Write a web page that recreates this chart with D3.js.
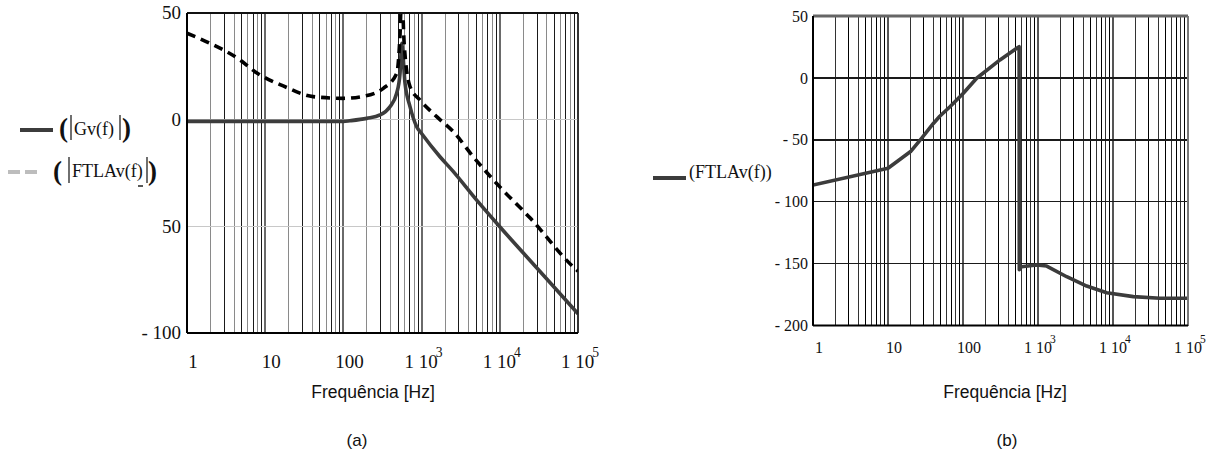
<!DOCTYPE html>
<html><head><meta charset="utf-8">
<script src="https://cdn.jsdelivr.net/npm/d3@7"></script>
<style>body{margin:0;background:#fff} svg{display:block}</style>
</head><body>
<svg id="c" width="1217" height="450"></svg>
<script>
// ---- data (a) ----
const freqGv = [1, 10, 100, 121, 199, 294, 394, 480, 530, 556, 614, 711, 865, 1000, 1718, 2500, 5000, 10000, 20000, 50000, 100000];
const gvA    = [-0.8, -0.8, -0.8, -0.5, 0.6, 2.2, 6.1, 12.4, 21.7, 35.8, 17, 6.1, -3.3, -6.5, -17.4, -24, -37.5, -50.2, -62.5, -78.7, -91];
const freqFT = [1, 1.97, 4.76, 7.4, 17, 41, 100, 171, 324, 480, 530, 556, 600, 711, 955, 1560, 2540, 4580, 10000, 24300, 87000, 100000];
const ftlaA  = [40.5, 35.8, 28, 22.5, 15.8, 10.8, 10, 10.8, 14.7, 21.7, 40, 60, 35, 15.5, 9.2, 1.4, -5.6, -17.4, -31.5, -46, -69, -71];
// ---- data (b) ----
const freqB  = [1, 10, 20, 28, 40, 49, 67, 101, 152, 311, 520, 560, 563, 600, 961, 1306, 2414, 4460, 8240, 18700, 42300, 100000];
const ftlaB  = [-86.5, -73, -59.5, -48.8, -37, -31, -23.3, -12.4, -0.3, 14.5, 24, 25.2, -155, -152.5, -151.1, -152, -160.6, -168.1, -173.5, -176.7, -178, -178];
// ---- ticks ----
const xTickVals = [1, 10, 100, 1000, 10000, 100000];
const xTickBase = ["1", "10", "100", "1 10", "1 10", "1 10"];
const xTickExp  = ["", "", "", "3", "4", "5"];
const yTicksA   = [50, 0, -50, -100];
const yLabelsA  = ["50", "0", "50", "- 100"];
const yTicksB   = [50, 0, -50, -100, -150, -200];
const yLabelsB  = ["50", "0", "- 50", "- 100", "- 150", "- 200"];

const svg = d3.select("#c");
const serif = "'Liberation Serif','Times New Roman',serif";
const sans = "'Liberation Sans',Arial,sans-serif";

function mult(d){ return Math.round(d / Math.pow(10, Math.floor(Math.log10(d) + 1e-9))); }

function panel(cfg){
  const {x, y, id} = cfg;
  const [x0, x1] = x.range(), [y0, y1] = y.range();
  const g = svg.append("g");
  g.append("clipPath").attr("id", id).append("rect")
    .attr("x", x0).attr("y", y0).attr("width", x1 - x0).attr("height", y1 - y0);
  g.selectAll(".vg").data(x.ticks()).join("line")
    .attr("x1", d => x(d)).attr("x2", d => x(d)).attr("y1", y0).attr("y2", y1)
    .attr("shape-rendering", "crispEdges")
    .attr("stroke", d => { const m = mult(d); return m === 1 ? cfg.decCol : (m % 2 === 0 ? cfg.evenCol : cfg.oddCol); })
    .attr("stroke-width", d => mult(d) === 1 ? 2 : 1);
  g.selectAll(".hg").data(cfg.yt.slice(1, -1)).join("line")
    .attr("x1", x0).attr("x2", x1).attr("y1", d => y(d)).attr("y2", d => y(d))
    .attr("shape-rendering", "crispEdges")
    .attr("stroke", cfg.hCol).attr("stroke-width", cfg.hW);
  const cg = g.append("g").attr("clip-path", `url(#${id})`);
  cfg.series.forEach(s => {
    const pts = s.f.map((f, i) => [f, s.v[i]]);
    cg.append("path").datum(pts)
      .attr("d", d3.line().x(d => x(d[0])).y(d => y(d[1])).curve(s.curve))
      .attr("fill", "none").attr("stroke", s.color).attr("stroke-width", s.w)
      .attr("stroke-dasharray", s.dash || null).attr("stroke-linejoin", "round");
  });
  g.append("line").attr("x1", x0).attr("x2", x1).attr("y1", y0).attr("y2", y0)
    .attr("stroke", cfg.topCol).attr("stroke-width", cfg.topW);
  g.append("line").attr("x1", x1).attr("x2", x1).attr("y1", y0).attr("y2", y1)
    .attr("stroke", cfg.rightCol).attr("stroke-width", cfg.rightW);
  g.append("line").attr("x1", x0).attr("x2", x1).attr("y1", y1).attr("y2", y1)
    .attr("stroke", "#000").attr("stroke-width", 2);
  g.append("line").attr("x1", x0).attr("x2", x0).attr("y1", y0).attr("y2", y1)
    .attr("stroke", "#000").attr("stroke-width", 2);
  g.selectAll(".yl").data(cfg.yt).join("text")
    .attr("x", x0 - cfg.yLabGap).attr("y", d => y(d) + 2)
    .attr("text-anchor", "end").attr("dominant-baseline", "middle")
    .attr("font-family", serif).attr("font-size", cfg.fs).attr("fill", "#111")
    .text((d, i) => cfg.yl[i]);
  const xl = g.selectAll(".xl").data(xTickVals).join("text")
    .attr("x", (d, i) => x(d) + (xTickExp[i] ? cfg.offBig : cfg.offSmall))
    .attr("y", cfg.xLabY)
    .attr("text-anchor", "middle")
    .attr("font-family", serif).attr("font-size", cfg.fs).attr("fill", "#111");
  xl.append("tspan").text((d, i) => xTickBase[i]);
  xl.append("tspan").attr("dx", -2).attr("dy", -cfg.fs * 0.6)
    .attr("font-size", cfg.fs * 0.72).text((d, i) => xTickExp[i]);
}

const xA = d3.scaleLog().domain([1, 1e5]).range([187, 578]);
const yA = d3.scaleLinear().domain([50, -100]).range([13, 333]);
panel({
  id: "clipA", x: xA, y: yA, yt: yTicksA, yl: yLabelsA,
  decCol: "#6a6a6a", evenCol: "#8a8a8a", oddCol: "#1a1a1a",
  hCol: "#c8c8c8", hW: 1.5, topCol: "#111", topW: 1.8, rightCol: "#111", rightW: 1.2,
  fs: 19, yLabGap: 6, xLabY: 368, offBig: 2, offSmall: 6,
  series: [
    {f: freqGv, v: gvA, color: "#3c3c3c", w: 3.6, curve: d3.curveMonotoneX},
    {f: freqFT, v: ftlaA, color: "#000", w: 3.6, dash: "9,6", curve: d3.curveMonotoneX}
  ]
});

const xB = d3.scaleLog().domain([1, 1e5]).range([813, 1188]);
const yB = d3.scaleLinear().domain([50, -200]).range([16, 325.5]);
panel({
  id: "clipB", x: xB, y: yB, yt: yTicksB, yl: yLabelsB,
  decCol: "#555", evenCol: "#333", oddCol: "#000",
  hCol: "#1a1a1a", hW: 1.5, topCol: "#666", topW: 3, rightCol: "#777", rightW: 2,
  fs: 16, yLabGap: 5, xLabY: 353, offBig: 2, offSmall: 6,
  series: [
    {f: freqB, v: ftlaB, color: "#3c3c3c", w: 3.6, curve: d3.curveLinear}
  ]
});

// ---- legends ----
const lg = svg.append("g").attr("font-family", serif).attr("fill", "#111");
lg.append("line").attr("x1", 20).attr("x2", 53).attr("y1", 130).attr("y2", 130)
  .attr("stroke", "#3c3c3c").attr("stroke-width", 4);
lg.append("text").attr("x", 59).attr("y", 137).attr("font-size", 27).attr("font-weight", "bold").text("(");
lg.append("line").attr("x1", 71).attr("x2", 71).attr("y1", 115).attr("y2", 140).attr("stroke", "#222").attr("stroke-width", 1.3);
lg.append("text").attr("x", 74).attr("y", 135).attr("font-size", 18).text("Gv(f)");
lg.append("line").attr("x1", 120).attr("x2", 120).attr("y1", 115).attr("y2", 140).attr("stroke", "#222").attr("stroke-width", 1.3);
lg.append("text").attr("x", 122).attr("y", 137).attr("font-size", 27).attr("font-weight", "bold").text(")");

lg.append("line").attr("x1", 8).attr("x2", 42).attr("y1", 172).attr("y2", 172)
  .attr("stroke", "#bdbdbd").attr("stroke-width", 4).attr("stroke-dasharray", "12,5");
lg.append("text").attr("x", 53).attr("y", 180).attr("font-size", 27).attr("font-weight", "bold").text("(");
lg.append("line").attr("x1", 69).attr("x2", 69).attr("y1", 157).attr("y2", 183).attr("stroke", "#222").attr("stroke-width", 1.3);
lg.append("text").attr("x", 72).attr("y", 177).attr("font-size", 18).text("FTLAv(f)");
lg.append("line").attr("x1", 147).attr("x2", 147).attr("y1", 157).attr("y2", 183).attr("stroke", "#222").attr("stroke-width", 1.3);
lg.append("text").attr("x", 148).attr("y", 180).attr("font-size", 27).attr("font-weight", "bold").text(")");
lg.append("line").attr("x1", 138).attr("x2", 143).attr("y1", 186).attr("y2", 186).attr("stroke", "#222").attr("stroke-width", 1.5);

lg.append("line").attr("x1", 653).attr("x2", 686).attr("y1", 178).attr("y2", 178)
  .attr("stroke", "#3c3c3c").attr("stroke-width", 4);
lg.append("text").attr("x", 689).attr("y", 178).attr("font-size", 18).text("(FTLAv(f))");

// ---- axis titles / captions ----
const tg = svg.append("g").attr("font-family", sans).attr("fill", "#111").attr("text-anchor", "middle");
tg.append("text").attr("x", 373).attr("y", 398).attr("font-size", 17.5).text("Frequência [Hz]");
tg.append("text").attr("x", 1005).attr("y", 398).attr("font-size", 17.5).text("Frequência [Hz]");
tg.append("text").attr("x", 357).attr("y", 446).attr("font-size", 17).text("(a)");
tg.append("text").attr("x", 1007).attr("y", 446).attr("font-size", 17).text("(b)");
</script>
</body></html>
